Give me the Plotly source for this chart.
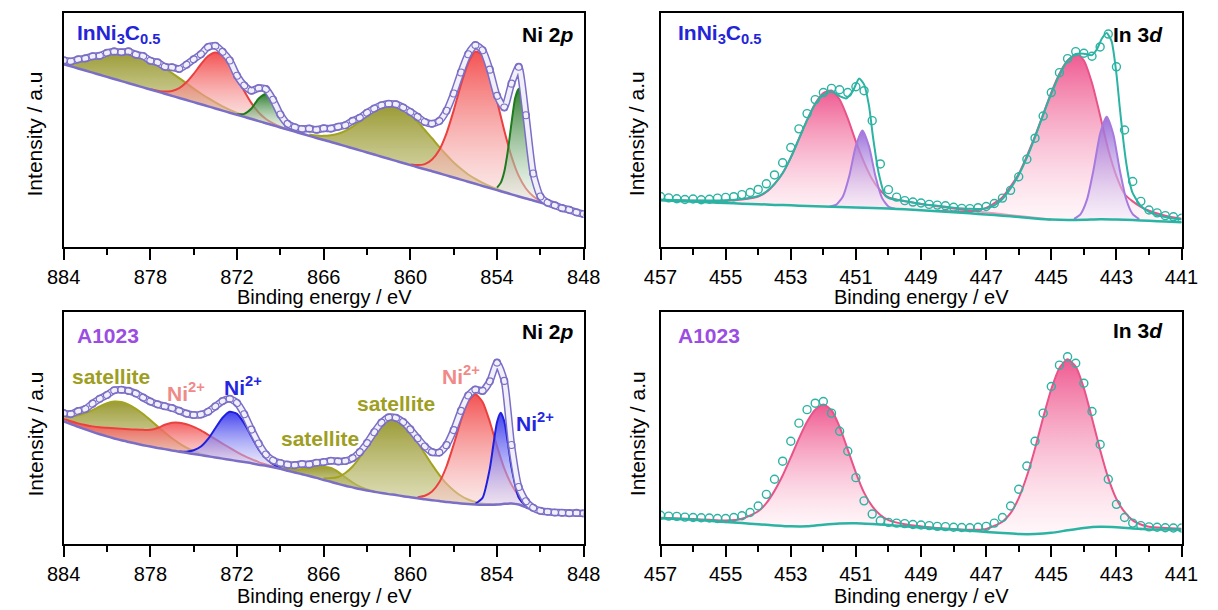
import plotly.graph_objects as go

W, H = 1218, 610
FONT = "Liberation Sans, Arial, Helvetica, sans-serif"

# ---------------- shared energy grids ----------------
NI_E = [884, 883.5, 883, 882.5, 882, 881.5, 881, 880.5, 880, 879.5, 879, 878.5, 878, 877.5, 877, 876.5,
        876, 875.5, 875, 874.5, 874, 873.5, 873, 872.5, 872, 871.5, 871, 870.5, 870, 869.5, 869, 868.5,
        868, 867.5, 867, 866.5, 866, 865.5, 865, 864.5, 864, 863.5, 863, 862.5, 862, 861.5, 861, 860.5,
        860, 859.5, 859, 858.5, 858, 857.5, 857, 856.5, 856, 855.5, 855, 854.5, 854, 853.5, 853, 852.5,
        852, 851.5, 851, 850.5, 850, 849.5, 849, 848.5, 848]
IN_E = [457, 456.75, 456.5, 456.25, 456, 455.75, 455.5, 455.25, 455, 454.75, 454.5, 454.25, 454, 453.75,
        453.5, 453.25, 453, 452.75, 452.5, 452.25, 452, 451.75, 451.5, 451.25, 451, 450.75, 450.5, 450.25,
        450, 449.75, 449.5, 449.25, 449, 448.75, 448.5, 448.25, 448, 447.75, 447.5, 447.25, 447, 446.75,
        446.5, 446.25, 446, 445.75, 445.5, 445.25, 445, 444.75, 444.5, 444.25, 444, 443.75, 443.5, 443.25,
        443, 442.75, 442.5, 442.25, 442, 441.75, 441.5, 441.25, 441]
IN_BG_E = [457, 456.5, 456, 455.5, 455, 454.5, 454, 453.5, 453, 452.5, 452, 451.5, 451, 450.5, 450, 449.5,
           449, 448.5, 448, 447.5, 447, 446.5, 446, 445.5, 445, 444.5, 444, 443.5, 443, 442.5, 442, 441.5, 441]

NI_TICKS = [884, 878, 872, 866, 860, 854, 848]
NI_MINOR = [881, 875, 869, 863, 857, 851]
IN_TICKS = [457, 455, 453, 451, 449, 447, 445, 443, 441]
IN_MINOR = [456, 454, 452, 450, 448, 446, 444, 442]

# ---------------- Panel A: InNi3C0.5, Ni 2p ----------------
A_bg = [78.1, 77.2, 76.3, 75.4, 74.5, 73.6, 72.7, 71.8, 70.9, 70.0, 69.1, 68.2, 67.3, 66.4, 65.5, 64.6,
        63.7, 62.8, 61.9, 61.0, 60.1, 59.2, 58.3, 57.4, 56.5, 55.6, 54.7, 53.8, 52.9, 52.0, 51.1, 50.2,
        49.3, 48.4, 47.5, 46.6, 45.7, 44.9, 44.0, 43.1, 42.2, 41.3, 40.4, 39.5, 38.6, 37.7, 36.8, 35.9,
        35.0, 34.1, 33.2, 32.4, 31.5, 30.6, 29.7, 28.8, 27.9, 27.0, 26.1, 25.2, 24.3, 23.4, 22.5, 21.6,
        20.7, 19.9, 19.0, 18.1, 17.2, 16.3, 15.4, 14.5, 13.6]
A_data = [79.8, 79.3, 80.2, 80.6, 81.5, 81.7, 83.0, 83.6, 83.2, 83.6, 82.2, 81.6, 79.6, 78.9, 77.0, 76.8,
          76.1, 77.9, 80.2, 82.4, 85.5, 86.0, 83.4, 79.7, 73.2, 69.0, 66.8, 67.9, 67.5, 62.9, 56.6, 52.6,
          51.2, 50.4, 50.6, 50.1, 50.7, 50.6, 51.4, 52.0, 53.9, 55.2, 57.4, 59.2, 60.6, 61.2, 61.0, 59.6,
          57.7, 55.6, 53.4, 52.7, 53.8, 58.2, 65.6, 74.6, 82.4, 86.3, 84.1, 75.8, 64.6, 59.6, 69.8, 77.0,
          56.3, 31.4, 21.6, 18.9, 17.8, 16.6, 15.9, 14.8, 14.1]
A_sat1_x = [884, 883.5, 883, 882.5, 882, 881.5, 881, 880.5, 880, 879.5, 879, 878.5, 878, 877.5, 877,
            876.5, 876, 875.5, 875, 874.5, 874, 873.5, 873, 872.5, 872, 871.5, 871, 870.5, 870]
A_sat1_y = [79.5, 79.5, 79.8, 80.4, 81.0, 81.9, 82.7, 83.2, 83.4, 83.1, 82.4, 81.2, 79.8, 78.1, 76.3,
            74.3, 72.2, 70.0, 67.7, 65.6, 63.6, 61.8, 60.1, 58.6, 57.3, 56.1, 55.0, 53.9, 52.9]
A_ni1_x = [878, 877.5, 877, 876.5, 876, 875.5, 875, 874.5, 874, 873.5, 873, 872.5, 872, 871.5, 871,
           870.5, 870, 869.5, 869, 868.5]
A_ni1_y = [67.4, 66.8, 66.4, 66.7, 67.9, 70.4, 74.0, 78.1, 81.6, 83.1, 81.9, 78.1, 72.6, 66.7, 61.5,
           57.5, 54.7, 52.8, 51.4, 50.3]
A_g1_x = [872, 871.5, 871, 870.5, 870, 869.5, 869, 868.5, 868]
A_g1_y = [56.7, 56.9, 59.2, 63.5, 65.4, 61.7, 55.6, 51.5, 49.5]
A_sat2_x = [867, 866.5, 866, 865.5, 865, 864.5, 864, 863.5, 863, 862.5, 862, 861.5, 861, 860.5, 860,
            859.5, 859, 858.5, 858, 857.5, 857, 856.5, 856, 855.5, 855, 854.5, 854, 853.5, 853]
A_sat2_y = [48.1, 47.6, 47.5, 47.8, 48.4, 49.6, 51.4, 53.5, 55.8, 57.9, 59.5, 60.3, 60.0, 58.6, 56.4,
            53.5, 50.0, 46.5, 42.8, 39.3, 36.1, 33.4, 31.0, 29.1, 27.4, 26.0, 24.8, 23.7, 22.6]
A_ni2_x = [860, 859.5, 859, 858.5, 858, 857.5, 857, 856.5, 856, 855.5, 855, 854.5, 854, 853.5, 853,
           852.5, 852, 851.5, 851, 850.5]
A_ni2_y = [35.3, 35.0, 35.4, 37.4, 41.5, 48.6, 58.4, 69.3, 78.6, 83.5, 81.9, 74.2, 62.4, 49.8, 38.7,
           30.4, 25.0, 21.7, 19.7, 18.3]
A_g2_x = [854, 853.75, 853.5, 853.25, 853, 852.75, 852.5, 852.25, 852, 851.75, 851.5, 851.25, 851]
A_g2_y = [25.4, 27.4, 32.2, 41.2, 52.9, 63.6, 67.6, 62.7, 51.1, 38.5, 28.7, 22.9, 20.1]

# ---------------- Panel B: A1023, Ni 2p ----------------
B_bg = [52.9, 51.7, 50.5, 49.4, 48.3, 47.3, 46.4, 45.5, 44.7, 44.0, 43.3, 42.6, 42.0, 41.4, 40.9, 40.3,
        39.8, 39.3, 38.8, 38.3, 37.8, 37.3, 36.8, 36.3, 35.8, 35.3, 34.8, 34.2, 33.7, 33.1, 32.4, 31.6,
        30.8, 30.1, 29.3, 28.5, 27.6, 26.8, 25.9, 25.1, 24.4, 23.7, 23.1, 22.5, 22.0, 21.5, 21.1, 20.6,
        20.2, 19.7, 19.3, 18.9, 18.5, 18.1, 17.8, 17.5, 17.2, 17.0, 16.9, 16.9, 17.0, 17.3, 17.5, 17.0,
        15.8, 14.5, 13.6, 13.1, 12.9, 12.8, 12.8, 12.7, 12.7]
B_data = [56.4, 56.0, 57.3, 58.2, 60.5, 62.6, 64.2, 66.3, 66.5, 66.0, 64.9, 63.1, 61.4, 60.2, 59.4, 58.6,
          57.4, 56.2, 55.6, 55.8, 57.0, 59.3, 61.6, 62.6, 60.8, 55.9, 49.3, 43.3, 38.6, 36.0, 34.9, 34.2,
          34.0, 34.5, 34.3, 35.0, 35.3, 35.9, 35.6, 35.8, 37.0, 39.6, 43.5, 48.2, 52.3, 54.6, 54.4, 52.6,
          49.4, 45.6, 42.0, 39.6, 39.4, 42.6, 49.1, 57.4, 64.0, 66.6, 66.0, 70.1, 78.2, 70.3, 42.7, 24.6,
          18.4, 15.6, 14.3, 13.9, 13.6, 13.5, 13.3, 13.4, 13.2]
B_sat1_x = [884, 883.5, 883, 882.5, 882, 881.5, 881, 880.5, 880, 879.5, 879, 878.5, 878, 877.5, 877,
            876.5, 876, 875.5, 875, 874.5, 874]
B_sat1_y = [55.0, 55.0, 55.5, 56.4, 57.7, 59.3, 60.7, 61.4, 61.2, 60.1, 58.3, 56.0, 53.4, 50.7, 48.1,
            45.6, 43.4, 41.5, 40.0, 38.9, 38.0]
B_ni1_x = [884, 883.5, 883, 882.5, 882, 881.5, 881, 880.5, 880, 879.5, 879, 878.5, 878, 877.5, 877,
           876.5, 876, 875.5, 875, 874.5, 874, 873.5, 873, 872.5, 872, 871.5, 871, 870.5, 870, 869.5, 869]
B_ni1_y = [53.9, 52.9, 52.0, 51.3, 50.7, 50.3, 50.1, 49.9, 49.7, 49.5, 49.3, 49.2, 49.2, 50.0, 51.4,
           52.3, 52.3, 51.6, 50.5, 49.0, 47.1, 45.2, 43.3, 41.4, 39.6, 38.0, 36.6, 35.3, 34.3, 33.4, 32.5]
B_b1_x = [876, 875.5, 875, 874.5, 874, 873.5, 873, 872.5, 872, 871.5, 871, 870.5, 870, 869.5, 869, 868.5]
B_b1_y = [39.9, 39.8, 40.4, 42.0, 45.3, 49.9, 54.4, 57.0, 56.1, 52.0, 46.3, 40.8, 36.9, 34.4, 32.8, 31.7]
B_sat2_x = [869, 868.5, 868, 867.5, 867, 866.5, 866, 865.5, 865, 864.5, 864, 863.5, 863, 862.5]
B_sat2_y = [32.7, 32.3, 32.1, 32.3, 32.6, 33.1, 33.2, 32.8, 31.1, 28.7, 26.5, 24.7, 23.5, 22.6]
B_sat3_x = [866, 865.5, 865, 864.5, 864, 863.5, 863, 862.5, 862, 861.5, 861, 860.5, 860, 859.5, 859,
            858.5, 858, 857.5, 857, 856.5, 856, 855.5, 855, 854.5, 854]
B_sat3_y = [28.3, 28.4, 28.9, 30.6, 33.4, 37.4, 42.2, 47.1, 51.3, 53.5, 53.5, 51.5, 48.2, 43.8, 39.0,
            34.2, 29.8, 26.0, 23.1, 20.8, 19.2, 18.1, 17.5, 17.2, 17.1]
B_ni2_x = [859.5, 859, 858.5, 858, 857.5, 857, 856.5, 856, 855.5, 855, 854.5, 854, 853.5, 853, 852.5,
           852, 851.5, 851]
B_ni2_y = [20.2, 20.8, 22.6, 26.6, 33.4, 42.9, 53.3, 61.5, 64.5, 61.2, 52.7, 42.1, 32.6, 25.6, 20.7,
           17.3, 15.0, 13.7]
B_b2_x = [855.5, 855, 854.5, 854.25, 854, 853.75, 853.5, 853.25, 853, 852.5, 852]
B_b2_y = [17.3, 19.9, 32.5, 43.0, 52.6, 56.6, 52.9, 43.5, 33.1, 20.0, 16.1]

# ---------------- Panel C: InNi3C0.5, In 3d ----------------
C_bg = [20.0, 19.7, 19.4, 19.1, 18.8, 18.5, 18.3, 18.0, 17.8, 17.5, 17.3, 17.1, 16.9, 16.7, 16.4, 16.1,
        15.7, 15.3, 14.9, 14.4, 13.9, 13.4, 12.8, 12.2, 11.7, 11.5, 11.6, 11.9, 11.8, 11.5, 11.2, 10.9, 10.6]
C_data = [21.6, 21.0, 20.6, 20.3, 20.5, 20.2, 20.4, 20.9, 21.2, 21.5, 22.4, 23.3, 24.6, 27.0, 30.8, 36.0,
          42.5, 50.5, 57.0, 63.0, 66.0, 67.8, 67.2, 66.0, 68.5, 66.8, 54.0, 35.5, 24.5, 21.3, 19.8, 19.2,
          18.8, 18.2, 17.9, 17.6, 17.0, 16.5, 16.4, 16.8, 17.3, 18.6, 20.9, 24.2, 30.0, 37.5, 46.5, 56.0,
          66.0, 74.5, 80.5, 83.5, 82.8, 81.5, 85.5, 91.0, 77.0, 50.0, 28.0, 19.5, 15.8, 14.6, 13.4, 12.9, 12.3]
C_fit_x = [457, 456, 455, 454.5, 454, 453.75, 453.5, 453.25, 453, 452.75, 452.5, 452.25, 452, 451.75,
           451.5, 451.3, 451.1, 450.9, 450.75, 450.6, 450.47, 450.3, 450.1, 449.9, 449.5, 449, 448.5, 448,
           447.5, 447, 446.75, 446.5, 446.25, 446, 445.75, 445.5, 445.25, 445, 444.75, 444.5, 444.25, 444,
           443.75, 443.6, 443.45, 443.3, 443.15, 443.0, 442.9, 442.8, 442.7, 442.6, 442.5, 442.25, 442,
           441.75, 441.5, 441.25, 441]
C_fit_y = [20.3, 19.9, 20.0, 20.5, 21.8, 23.7, 27.0, 31.6, 38.2, 46.2, 54.2, 61.0, 65.0, 66.5, 64.5,
           63.5, 66.5, 72.0, 69.5, 60.5, 46.5, 31.5, 22.0, 20.5, 19.6, 18.4, 17.6, 16.8, 16.3, 16.5, 17.8,
           20.5, 25.0, 30.8, 38.2, 47.0, 56.5, 65.5, 73.5, 79.5, 82.5, 82.6, 82.0, 84.5, 89.0, 91.5, 88.0,
           74.0, 60.0, 47.0, 36.0, 28.0, 23.0, 17.5, 15.0, 13.6, 12.8, 12.2, 11.8]
C_p1_x = [457, 456, 455.5, 455, 454.5, 454, 453.75, 453.5, 453.25, 453, 452.75, 452.5, 452.25, 452,
          451.75, 451.5, 451.25, 451, 450.75, 450.5, 450.25, 450, 449.5, 449, 448.5, 448, 447.5, 447,
          446.5, 446, 445]
C_p1_y = [20.1, 19.8, 19.7, 19.8, 20.3, 21.6, 23.5, 26.9, 31.5, 38.2, 46.2, 54.2, 61.3, 65.8, 66.9,
          63.0, 55.0, 45.0, 36.2, 29.0, 24.2, 21.2, 19.6, 18.4, 17.4, 16.5, 15.6, 14.8, 14.0, 13.2, 11.8]
C_v1_x = [451.8, 451.6, 451.4, 451.2, 451.0, 450.8, 450.6, 450.4, 450.2, 450.0, 449.8]
C_v1_y = [17.3, 18.1, 21.6, 30.6, 43.3, 49.8, 43.1, 30.2, 21.0, 17.3, 16.35]
C_p2_x = [448.5, 448, 447.5, 447, 446.5, 446, 445.5, 445, 444.75, 444.5, 444.2, 444, 443.75, 443.5,
          443.25, 443, 442.75, 442.5, 442.25, 442, 441.5, 441]
C_p2_y = [15.5, 15.2, 15.2, 16.7, 21.3, 31.3, 47.4, 66.1, 74.1, 79.7, 82.35, 79.7, 70.05, 56.1, 41.55,
          30.3, 22.65, 19.5, 17.15, 15.5, 13.4, 12.1]
C_v2_x = [444.3, 444.1, 443.9, 443.7, 443.5, 443.3, 443.1, 442.9, 442.7, 442.5, 442.3]
C_v2_y = [12.05, 14.1, 20.45, 33.2, 48.5, 55.7, 48.4, 33.1, 20.4, 14.0, 11.9]

# ---------------- Panel D: A1023, In 3d ----------------
D_bg = [11.1, 10.8, 10.5, 10.0, 9.5, 9.0, 8.5, 8.0, 7.6, 7.6, 8.3, 8.8, 8.9, 8.6, 8.2, 7.6, 7.1, 6.6,
        6.2, 5.7, 5.2, 4.7, 4.3, 4.3, 4.8, 5.9, 6.9, 7.4, 7.2, 6.7, 6.3, 6.2, 6.1]
D_data = [12.4, 12.0, 11.9, 11.6, 11.4, 11.3, 11.2, 11.0, 11.0, 11.4, 12.2, 13.6, 16.4, 21.4, 27.9, 35.7,
          44.3, 52.1, 57.9, 60.7, 61.4, 56.4, 48.6, 40.0, 28.6, 18.6, 12.9, 10.0, 9.3, 9.0, 8.8, 8.4,
          8.2, 7.9, 7.6, 7.5, 7.2, 7.1, 7.0, 7.2, 7.6, 9.0, 11.4, 16.4, 23.6, 33.6, 44.3, 56.4,
          67.9, 77.1, 80.7, 77.9, 69.3, 57.1, 42.9, 27.9, 17.1, 11.4, 9.0, 7.9, 7.4, 7.2, 7.0, 6.9, 6.9]
D_p1_x = [457, 456, 455.5, 455, 454.5, 454, 453.75, 453.5, 453.25, 453, 452.75, 452.5, 452.25, 452,
          451.75, 451.5, 451.25, 451, 450.75, 450.5, 450.25, 450, 449.5, 449, 448.5]
D_p1_y = [11.3, 10.8, 10.4, 10.1, 10.9, 14.1, 17.65, 22.9, 29.5, 37.3, 45.45, 52.7, 57.9, 60.1, 57.65,
          50.5, 40.65, 30.7, 22.15, 16.3, 12.5, 10.3, 8.5, 7.6, 6.8]
D_p2_x = [449.5, 449, 448.5, 448, 447.5, 447, 446.5, 446.25, 446, 445.75, 445.5, 445.25, 445, 444.75,
          444.5, 444.25, 444, 443.75, 443.5, 443.25, 443, 442.75, 442.5, 442.25, 442, 441.5, 441]
D_p2_y = [7.9, 7.4, 6.9, 6.5, 6.1, 6.5, 9.6, 13.3, 19.8, 29.3, 41.2, 54.5, 66.8, 75.9, 79.6, 76.5, 67.2,
          54.2, 40.5, 28.4, 19.4, 13.8, 10.2, 8.4, 7.4, 6.9, 6.6]

# ---------------- colours ----------------
NI_PURPLE = "#7a6ec6"
NI_RIBBON = "#f1f0fa"
TEAL = "#2bb3a3"
RED = ("#ec4040", "rgba(243,70,70,0.93)", "rgba(248,215,215,0.45)")
OLIVE = ("#a3a31f", "rgba(146,146,36,0.92)", "rgba(196,196,130,0.55)")
GREEN = ("#1d7a1d", "rgba(33,116,33,0.93)", "rgba(228,240,228,0.45)")
BLUE = ("#1f1fe0", "rgba(52,52,238,0.93)", "rgba(222,222,250,0.45)")
PINK = ("#e8548a", "rgba(238,84,140,0.96)", "rgba(255,238,244,0.45)")
VIOLET = ("#a77ade", "rgba(148,100,214,0.9)", "rgba(240,234,250,0.45)")

fig = go.Figure()


def add_comp(xa, ya, cx, cy, bgx, bgy, col):
    lo, hi = min(cx), max(cx)
    seg = sorted([(x, y) for x, y in zip(bgx, bgy) if lo < x < hi])
    px = list(cx) + [p[0] for p in seg]
    py = list(cy) + [p[1] for p in seg]
    fig.add_trace(go.Scatter(
        x=px, y=py, xaxis=xa, yaxis=ya, mode="lines", fill="toself",
        line=dict(width=0, shape="spline", smoothing=0.5),
        fillgradient=dict(type="vertical", colorscale=[[0, col[2]], [1, col[1]]]),
        hoverinfo="skip", showlegend=False))
    fig.add_trace(go.Scatter(
        x=cx, y=cy, xaxis=xa, yaxis=ya, mode="lines",
        line=dict(color=col[0], width=2, shape="spline", smoothing=0.6),
        hoverinfo="skip", showlegend=False))


def add_line(xa, ya, x, y, color, width):
    fig.add_trace(go.Scatter(x=x, y=y, xaxis=xa, yaxis=ya, mode="lines",
                             line=dict(color=color, width=width, shape="spline", smoothing=0.6),
                             hoverinfo="skip", showlegend=False))


def add_ni_data(xa, ya, x, y):
    # dense ribbon of open circles: outer purple band, pale interior, circles on top
    add_line(xa, ya, x, y, NI_PURPLE, 7.5)
    add_line(xa, ya, x, y, NI_RIBBON, 4.5)
    fig.add_trace(go.Scatter(
        x=x, y=y, xaxis=xa, yaxis=ya, mode="markers",
        marker=dict(symbol="circle-open", size=7, color=NI_PURPLE, line=dict(width=1.1)),
        hoverinfo="skip", showlegend=False))


def add_in_data(xa, ya, x, y):
    fig.add_trace(go.Scatter(
        x=x, y=y, xaxis=xa, yaxis=ya, mode="markers",
        marker=dict(symbol="circle-open", size=8, color=TEAL, line=dict(width=1.4)),
        hoverinfo="skip", showlegend=False))


# Panel A (top-left)
for cx, cy, col in [(A_sat1_x, A_sat1_y, OLIVE), (A_ni1_x, A_ni1_y, RED), (A_g1_x, A_g1_y, GREEN),
                    (A_sat2_x, A_sat2_y, OLIVE), (A_ni2_x, A_ni2_y, RED), (A_g2_x, A_g2_y, GREEN)]:
    add_comp("x", "y", cx, cy, NI_E, A_bg, col)
add_line("x", "y", NI_E, A_bg, NI_PURPLE, 2.5)
add_ni_data("x", "y", NI_E, A_data)

# Panel C (top-right)
for cx, cy, col in [(C_p1_x, C_p1_y, PINK), (C_v1_x, C_v1_y, VIOLET),
                    (C_p2_x, C_p2_y, PINK), (C_v2_x, C_v2_y, VIOLET)]:
    add_comp("x2", "y2", cx, cy, IN_BG_E, C_bg, col)
add_line("x2", "y2", IN_BG_E, C_bg, TEAL, 2.5)
add_line("x2", "y2", C_fit_x, C_fit_y, TEAL, 2)
add_in_data("x2", "y2", IN_E, C_data)

# Panel B (bottom-left)
for cx, cy, col in [(B_sat1_x, B_sat1_y, OLIVE), (B_ni1_x, B_ni1_y, RED), (B_b1_x, B_b1_y, BLUE),
                    (B_sat2_x, B_sat2_y, OLIVE), (B_sat3_x, B_sat3_y, OLIVE),
                    (B_ni2_x, B_ni2_y, RED), (B_b2_x, B_b2_y, BLUE)]:
    add_comp("x3", "y3", cx, cy, NI_E, B_bg, col)
add_line("x3", "y3", NI_E, B_bg, NI_PURPLE, 2.5)
add_ni_data("x3", "y3", NI_E, B_data)

# Panel D (bottom-right)
for cx, cy, col in [(D_p1_x, D_p1_y, PINK), (D_p2_x, D_p2_y, PINK)]:
    add_comp("x4", "y4", cx, cy, IN_BG_E, D_bg, col)
add_line("x4", "y4", IN_BG_E, D_bg, TEAL, 2.5)
add_in_data("x4", "y4", IN_E, D_data)

# ---------------- axes ----------------
LEFT = [48 / W, 583 / W]
RIGHT = [662 / W, 1198 / W]
TOP = [1 - 247 / H, 1 - 13 / H]
BOT = [1 - 544 / H, 1 - 312 / H]


def xax(dom, anchor, rng, ticks, minor):
    return dict(domain=dom, anchor=anchor, range=rng, tickmode="array", tickvals=ticks,
                ticktext=[str(t) for t in ticks], showline=True, linewidth=2, linecolor="black",
                mirror=True, ticks="outside", ticklen=11, tickwidth=2, tickcolor="black",
                tickfont=dict(family=FONT, size=20, color="black"), showgrid=False, zeroline=False,
                minor=dict(tickmode="array", tickvals=minor, ticks="outside", ticklen=6, tickwidth=2,
                           tickcolor="black", showgrid=False))


def yax(dom, anchor):
    return dict(domain=dom, anchor=anchor, range=[0, 100], showline=True, linewidth=2,
                linecolor="black", mirror=True, ticks="", showticklabels=False,
                showgrid=False, zeroline=False)


fig.update_layout(
    width=W, height=H, margin=dict(l=0, r=0, t=0, b=0),
    paper_bgcolor="white", plot_bgcolor="white", showlegend=False,
    font=dict(family=FONT, color="black"),
    xaxis=xax(LEFT, "y", [884, 848], NI_TICKS, NI_MINOR), yaxis=yax(TOP, "x"),
    xaxis2=xax(RIGHT, "y2", [457, 441], IN_TICKS, IN_MINOR), yaxis2=yax(TOP, "x2"),
    xaxis3=xax(LEFT, "y3", [884, 848], NI_TICKS, NI_MINOR), yaxis3=yax(BOT, "x3"),
    xaxis4=xax(RIGHT, "y4", [457, 441], IN_TICKS, IN_MINOR), yaxis4=yax(BOT, "x4"),
)

# ---------------- text ----------------
BLUE_TXT = "#2424d8"
VIOLET_TXT = "#9b4ce2"
OLIVE_TXT = "#9e9e22"
PINK_TXT = "#f08a88"
NI2_BLUE = "#2626e2"
anns = []


def ann(px, py, text, size, color="black", xanchor="center", angle=0):
    anns.append(dict(x=px / W, y=1 - py / H, xref="paper", yref="paper", text=text, showarrow=False,
                     xanchor=xanchor, yanchor="middle", textangle=angle,
                     font=dict(family=FONT, size=size, color=color)))


SAMPLE1 = "<b>InNi<sub>3</sub>C<sub>0.5</sub></b>"
for x0 in (60, 678):
    ann(x0, 34, SAMPLE1, 21, BLUE_TXT, "left")
    ann(x0, 335, "<b>A1023</b>", 21, VIOLET_TXT, "left")
ann(575, 35, "<b>Ni 2<i>p</i></b>", 21, xanchor="right")
ann(575, 331, "<b>Ni 2<i>p</i></b>", 21, xanchor="right")
ann(1181, 35, "<b>In 3<i>d</i></b>", 21, xanchor="right")
ann(1181, 330, "<b>In 3<i>d</i></b>", 21, xanchor="right")

for xc, yc in [(316, 297), (930, 297), (316, 596), (930, 596)]:
    ann(xc, yc, "Binding energy / eV", 20)
for xc, yc in [(19, 134), (638, 134), (19, 434), (638, 434)]:
    ann(xc, yc, "Intensity / a.u", 21, angle=-90)

NI2 = "<b>Ni<sup>2+</sup></b>"
ann(97, 376, "<b>satellite</b>", 21, OLIVE_TXT)
ann(174, 392, NI2, 21, PINK_TXT)
ann(233, 386, NI2, 21, NI2_BLUE)
ann(312, 438, "<b>satellite</b>", 21, OLIVE_TXT)
ann(390, 403, "<b>satellite</b>", 21, OLIVE_TXT)
ann(457, 375, NI2, 21, PINK_TXT)
ann(533, 422, NI2, 21, NI2_BLUE)

fig.update_layout(annotations=anns)
# the page body normally has an 8px default margin; remove it so the figure fills the window exactly
fig.write_html("out.html", config={"displayModeBar": False},
               post_script="document.body.style.margin='0px';")
